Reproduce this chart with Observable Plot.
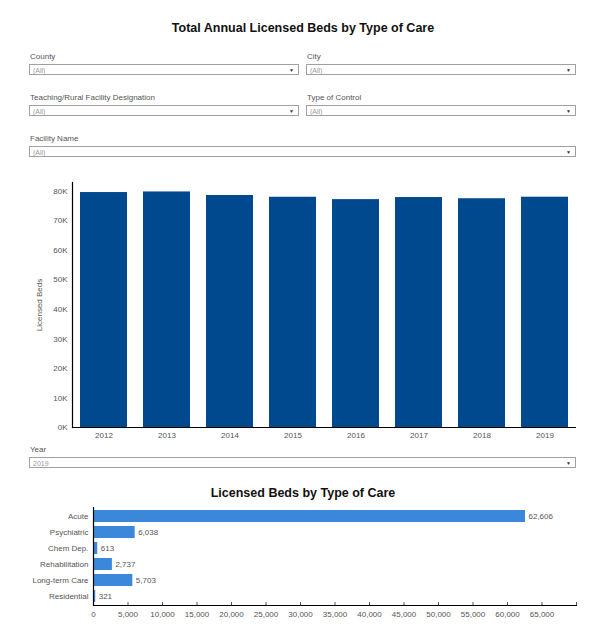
<!DOCTYPE html>
<html>
<head>
<meta charset="utf-8">
<script src="https://cdn.jsdelivr.net/npm/d3@7"></script>
<script src="https://cdn.jsdelivr.net/npm/@observablehq/plot@0.6"></script>
<style>
  html, body { margin: 0; padding: 0; background: #fff; }
  body { width: 611px; height: 634px; position: relative; overflow: hidden; font-family: "Liberation Sans", Arial, sans-serif; }
  .title { position: absolute; left: 0; width: 606px; text-align: center; font-weight: bold; color: #111; }
  .flabel { position: absolute; font-size: 8px; color: #555; line-height: 10px; }
  .fbox { position: absolute; height: 11px; border: 1px solid #a0a0a0; background: #fff; box-sizing: border-box; }
  .fbox .val { position: absolute; left: 3px; top: 1px; font-size: 7px; line-height: 9px; color: #999; }
  .fbox .arr { position: absolute; right: 4px; top: 1px; font-size: 5px; line-height: 9px; color: #333; }
  .chart { position: absolute; left: 0; }
</style>
</head>
<body>
<div class="title" style="top:20px;font-size:12.5px;line-height:16px;">Total Annual Licensed Beds by Type of Care</div>
<div id="filters"></div>
<div class="chart" id="top" style="top:175px;"></div>
<div class="title" style="top:485px;font-size:12.5px;line-height:16px;">Licensed Beds by Type of Care</div>
<div class="chart" id="bottom" style="top:500px;"></div>
<script>
// ---- data ----
const years = ["2012", "2013", "2014", "2015", "2016", "2017", "2018", "2019"];
const totalBeds = [79600, 79800, 78600, 78000, 77200, 77900, 77500, 78018];
const yTicks = [0, 10000, 20000, 30000, 40000, 50000, 60000, 70000, 80000];

const careTypes = ["Acute", "Psychiatric", "Chem Dep.", "Rehabilitation", "Long-term Care", "Residential"];
const careBeds2019 = [62606, 6038, 613, 2737, 5703, 321];
const xTicks = [0, 5000, 10000, 15000, 20000, 25000, 30000, 35000, 40000, 45000, 50000, 55000, 60000, 65000, 70000];

const filterLabels = ["County", "City", "Teaching/Rural Facility Designation", "Type of Control", "Facility Name", "Year"];
const filterValues = ["(All)", "(All)", "(All)", "(All)", "(All)", "2019"];
// ---- end data ----

// filters (layout boxes)
const filterLayout = [
  {l: 29, w: 270, t: 52},
  {l: 306, w: 270, t: 52},
  {l: 29, w: 270, t: 93},
  {l: 306, w: 270, t: 93},
  {l: 29, w: 547, t: 134},
  {l: 29, w: 547, t: 445}
];
const fdiv = document.getElementById("filters");
filterLabels.forEach((lab, i) => {
  const p = filterLayout[i];
  const l = document.createElement("div");
  l.className = "flabel";
  l.style.left = (p.l + 1) + "px";
  l.style.top = p.t + "px";
  l.textContent = lab;
  fdiv.appendChild(l);
  const b = document.createElement("div");
  b.className = "fbox";
  b.style.left = p.l + "px";
  b.style.top = (p.t + 12) + "px";
  b.style.width = p.w + "px";
  b.innerHTML = `<span class="val">${filterValues[i]}</span><span class="arr">&#9660;</span>`;
  fdiv.appendChild(b);
});

const FONT = '"Liberation Sans", Arial, sans-serif';
const fmt = d3.format(",");

const yearData = years.map((y, i) => ({year: y, beds: totalBeds[i]}));
const topPlot = Plot.plot({
  width: 611,
  height: 270,
  marginLeft: 72,
  marginRight: 35,
  marginTop: 7,
  marginBottom: 18,
  style: {fontFamily: FONT, fontSize: "8px", color: "#555", background: "transparent"},
  x: {domain: years, paddingInner: 0.25, paddingOuter: 0.125, label: null},
  y: {domain: [0, 83000], label: null},
  marks: [
    Plot.barY(yearData, {x: "year", y: "beds", fill: "#00498f"}),
    Plot.axisY({ticks: yTicks, tickFormat: d => d / 1000 + "K", tickSize: 0, tickPadding: 5,
      label: "Licensed Beds", labelAnchor: "center", labelArrow: "none", labelOffset: 36}),
    Plot.axisX({tickSize: 0, tickPadding: 5, label: null}),
    Plot.ruleY([0], {stroke: "#000", strokeWidth: 1.2}),
    Plot.frame({anchor: "left", stroke: "#000", strokeWidth: 1.2})
  ]
});
document.getElementById("top").appendChild(topPlot);

const careData = careTypes.map((t, i) => ({type: t, beds: careBeds2019[i]}));
const bottomPlot = Plot.plot({
  width: 611,
  height: 134,
  marginLeft: 93,
  marginRight: 35,
  marginTop: 7,
  marginBottom: 29,
  style: {fontFamily: FONT, fontSize: "8px", color: "#555", background: "transparent"},
  x: {domain: [0, 70000], label: null},
  y: {domain: careTypes, paddingInner: 0.27, paddingOuter: 0.13, label: null},
  marks: [
    Plot.barX(careData, {y: "type", x: "beds", fill: "#3b88db"}),
    Plot.text(careData, {y: "type", x: "beds", text: d => fmt(d.beds), dx: 3, textAnchor: "start", fill: "#555", fontSize: 8}),
    Plot.axisY({tickSize: 0, tickPadding: 5, label: null}),
    Plot.axisX({ticks: xTicks, tickFormat: d => d === 70000 ? "" : fmt(d), tickSize: -3, tickPadding: 9, label: null}),
    Plot.ruleX([0], {stroke: "#000", strokeWidth: 1.2}),
    Plot.frame({anchor: "bottom", stroke: "#000", strokeWidth: 1.2})
  ]
});
document.getElementById("bottom").appendChild(bottomPlot);
</script>
</body>
</html>
